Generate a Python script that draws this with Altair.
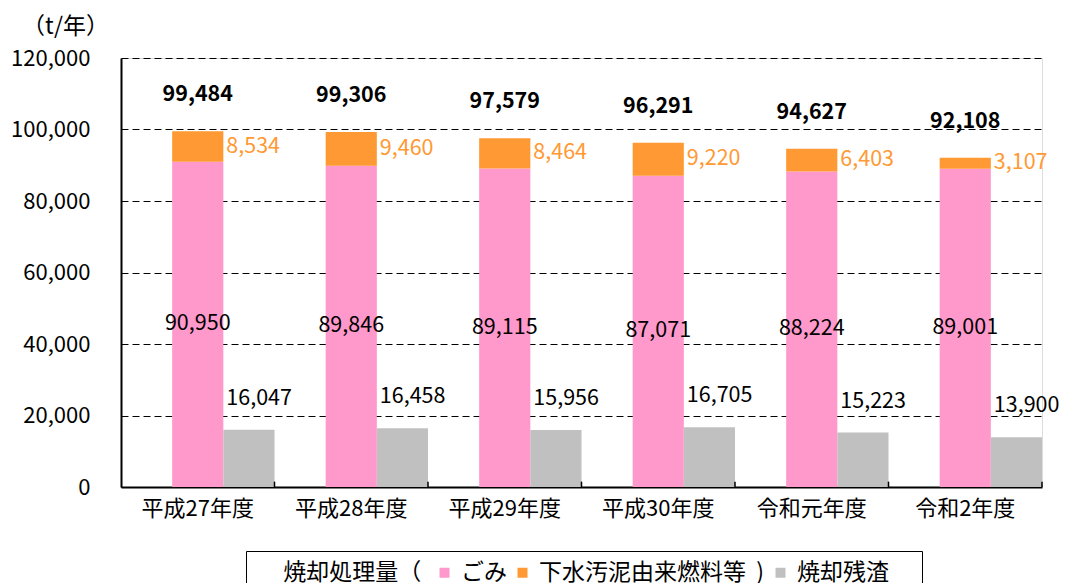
import altair as alt
import pandas as pd

categories = ["平成27年度", "平成28年度", "平成29年度", "平成30年度", "令和元年度", "令和2年度"]
gomi = [90950, 89846, 89115, 87071, 88224, 89001]
sludge = [8534, 9460, 8464, 9220, 6403, 3107]
total = [99484, 99306, 97579, 96291, 94627, 92108]
ash = [16047, 16458, 15956, 16705, 15223, 13900]

series_names = ["ごみ", "下水汚泥由来燃料等", "焼却残渣"]
series_colors = ["#FF99CC", "#FF9933", "#C0C0C0"]
y_ticks = [0, 20000, 40000, 60000, 80000, 100000, 120000]

FONT = "Noto Sans CJK JP"
YTITLE = "（t/年）"
FS = 22
LFS = 21.5

rows = []
for i, c in enumerate(categories):
    rows.append(dict(cat=c, series=series_names[0], slot="main", value=gomi[i], order=1))
    rows.append(dict(cat=c, series=series_names[1], slot="main", value=sludge[i], order=2))
    rows.append(dict(cat=c, series=series_names[2], slot="ash", value=ash[i], order=3))
bars_df = pd.DataFrame(rows)
lab_df = pd.DataFrame(dict(cat=categories, gomi=gomi, sludge=sludge, total=total, ash=ash))

x_main = alt.X(
    "cat:N", sort=categories,
    scale=alt.Scale(paddingInner=0, paddingOuter=0),
    axis=alt.Axis(title=None, labelAngle=0, ticks=False, labelPadding=11,
                  labelFontSize=FS, labelColor="black", domainColor="black",
                  domainWidth=2, grid=False, labelFont=FONT),
)
x_off = alt.XOffset("slot:N", scale=alt.Scale(domain=["pad", "main", "ash"], paddingInner=0, paddingOuter=0))
y_scale = alt.Scale(domain=[0, 120000], nice=False)

NB = "\u00a0"
BL = "\u2800"
color = alt.Color(
    "series:N",
    scale=alt.Scale(domain=series_names, range=series_colors),
    legend=alt.Legend(
        orient="none", legendX=125, legendY=493, direction="horizontal",
        title=BL + NB * 2 + "焼却処理量（", titleOrient="left", titleFontSize=23,
        titleFontWeight="normal", titleColor="black", titleFont=FONT,
        titlePadding=11, titleLimit=400,
        labelFontSize=23, labelColor="black", labelFont=FONT, labelLimit=400,
        labelExpr="datum.label == 'ごみ' ? 'ごみ" + NB * 5 + "' : (datum.label == '下水汚泥由来燃料等' ? '下水汚泥由来燃料等" + NB + " )' : '焼却残渣" + NB + BL + "')",
        symbolType="square", symbolSize=100, symbolStrokeWidth=0,
        strokeColor="black", padding=10, columnPadding=4, labelOffset=5,
    ),
)

main_bars = alt.Chart(bars_df).transform_filter("datum.slot == 'main'").mark_bar().encode(
    x=x_main,
    xOffset=x_off,
    y=alt.Y("value:Q", stack="zero", scale=y_scale, title=YTITLE,
            axis=alt.Axis(values=y_ticks, labelExpr="format(datum.value, ',d')",
                          titleAngle=0, titleX=-56, titleY=-32,
                          titleAlign="center", titleBaseline="middle", titleFontSize=23,
                          titleFontWeight="normal", titleColor="black", titleFont=FONT,
                          ticks=False, labelPadding=31, labelFontSize=FS, labelColor="black",
                          labelFont=FONT, domainColor="black", domainWidth=2,
                          grid=True, gridDash=[7, 4], gridColor="black", gridWidth=1)),
    color=color,
    order=alt.Order("order:Q", sort="ascending"),
)

ash_bars = alt.Chart(bars_df).transform_filter("datum.slot == 'ash'").mark_bar().encode(
    x=alt.X("cat:N", sort=categories),
    xOffset=x_off,
    y=alt.Y("value:Q", scale=y_scale, title=YTITLE),
    color=color,
)

ticks = alt.Chart(lab_df).mark_rule(color="black", strokeWidth=1.5).encode(
    x=alt.X("cat:N", sort=categories, bandPosition=1),
    y=alt.datum(0),
    y2=alt.datum(1500),
)

total_lbl = alt.Chart(lab_df).mark_text(fontSize=LFS, fontWeight="bold", font=FONT, color="black", dy=-36).encode(
    x=alt.X("cat:N", sort=categories),
    y=alt.Y("total:Q", scale=y_scale, title=YTITLE),
    text=alt.Text("total:Q", format=",d"),
)

gomi_lbl = alt.Chart(lab_df).transform_calculate(mid="datum.gomi / 2").mark_text(
    fontSize=LFS, font=FONT, color="black").encode(
    x=alt.X("cat:N", sort=categories),
    y=alt.Y("mid:Q", scale=y_scale, title=YTITLE),
    text=alt.Text("gomi:Q", format=",d"),
)

sludge_lbl = alt.Chart(lab_df).transform_calculate(mid="datum.gomi + datum.sludge / 2").mark_text(
    fontSize=LFS, font=FONT, color="#FF9933", align="left", dx=3).encode(
    x=alt.X("cat:N", sort=categories, bandPosition=2 / 3),
    y=alt.Y("mid:Q", scale=y_scale, title=YTITLE),
    text=alt.Text("sludge:Q", format=",d"),
)

ash_lbl = alt.Chart(lab_df).mark_text(fontSize=LFS, font=FONT, color="black", align="left", dx=3, dy=-31).encode(
    x=alt.X("cat:N", sort=categories, bandPosition=2 / 3),
    y=alt.Y("ash:Q", scale=y_scale, title=YTITLE),
    text=alt.Text("ash:Q", format=",d"),
)

chart = alt.layer(main_bars, ash_bars, ticks, total_lbl, gomi_lbl, sludge_lbl, ash_lbl).properties(
    width=921, height=429,
    autosize=alt.AutoSizeParams(type="none"),
    padding={"left": 113, "top": 50, "right": 18, "bottom": 96},
).configure_view(stroke=None).configure(font=FONT)

chart.save("out.html", embed_options={"renderer": "svg", "actions": False})
